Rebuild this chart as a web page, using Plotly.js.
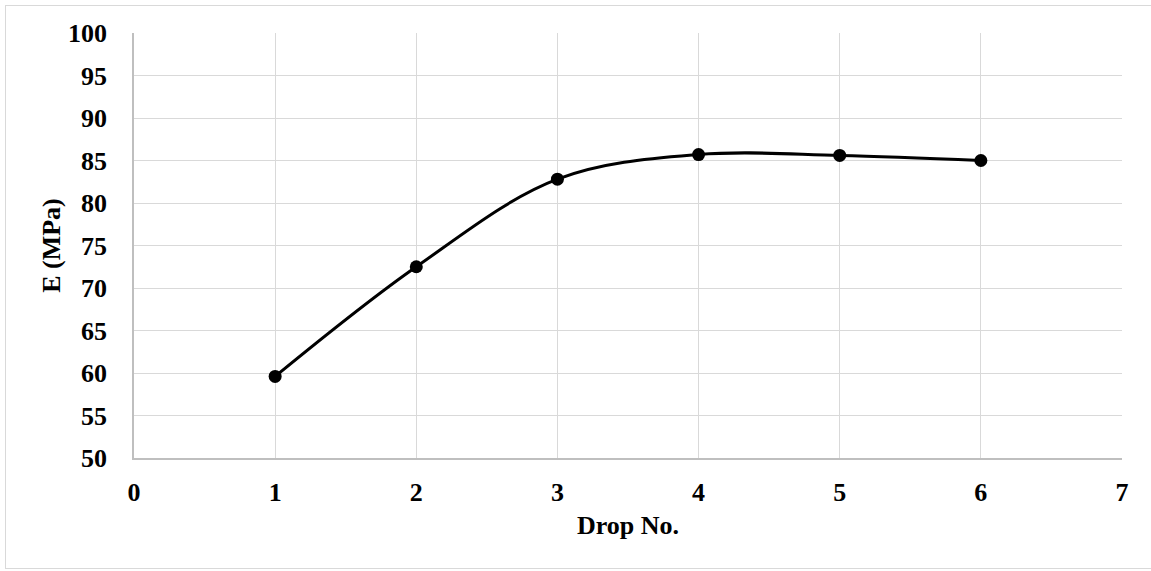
<!DOCTYPE html>
<html>
<head>
<meta charset="utf-8">
<script src="https://cdn.plot.ly/plotly-3.0.1.min.js"></script>
<style>
html,body{margin:0;padding:0;background:#fff;overflow:hidden;}
#frame{position:absolute;left:5px;top:5px;width:1160px;height:564px;border-top:1px solid #d9d9d9;border-left:1px solid #d9d9d9;border-bottom:1px solid #d9d9d9;box-sizing:border-box;}
#chart{position:absolute;left:0;top:0;width:1151px;height:571px;}
</style>
</head>
<body>
<div id="frame"></div>
<div id="chart"></div>
<script>
const dropNo = [1, 2, 3, 4, 5, 6];
const modulusE = [59.6, 72.5, 82.8, 85.7, 85.6, 85.0];
const xTicks = [0, 1, 2, 3, 4, 5, 6, 7];
const yTicks = [50, 55, 60, 65, 70, 75, 80, 85, 90, 95, 100];
const xTitle = 'Drop No.';
const yTitle = 'E (MPa)';

const fontFamily = 'Liberation Serif, Times New Roman, serif';

const trace = {
  x: dropNo,
  y: modulusE,
  type: 'scatter',
  mode: 'lines+markers',
  line: {color: '#000000', width: 3, shape: 'spline', smoothing: 1},
  marker: {color: '#000000', size: 13},
  showlegend: false,
  hoverinfo: 'x+y'
};

const layout = {
  width: 1151,
  height: 571,
  margin: {l: 134, r: 29, t: 33, b: 113},
  paper_bgcolor: 'rgba(0,0,0,0)',
  plot_bgcolor: '#ffffff',
  font: {family: fontFamily, color: '#000000'},
  xaxis: {
    range: [0, 7],
    tickvals: xTicks,
    ticktext: xTicks.map(String),
    showgrid: true,
    gridcolor: '#d9d9d9',
    gridwidth: 1,
    zeroline: false,
    showline: true,
    linecolor: '#bfbfbf',
    linewidth: 1.5,
    ticks: 'outside',
    ticklen: 10,
    tickcolor: 'rgba(0,0,0,0)',
    tickfont: {family: fontFamily, size: 26, color: '#000000', weight: 'bold'},
    title: {text: '<b>' + xTitle + '</b>', font: {family: fontFamily, size: 26, color: '#000000'}, standoff: 10},
    fixedrange: true
  },
  yaxis: {
    range: [50, 100],
    tickvals: yTicks,
    ticktext: yTicks.map(String),
    showgrid: true,
    gridcolor: '#d9d9d9',
    gridwidth: 1,
    zeroline: false,
    showline: true,
    linecolor: '#bfbfbf',
    linewidth: 1.5,
    ticks: 'outside',
    ticklen: 20,
    tickcolor: 'rgba(0,0,0,0)',
    tickfont: {family: fontFamily, size: 26, color: '#000000', weight: 'bold'},
    title: {text: '<b>' + yTitle + '</b>', font: {family: fontFamily, size: 26, color: '#000000'}, standoff: 0},
    fixedrange: true
  },
  showlegend: false
};

Plotly.newPlot('chart', [trace], layout, {displayModeBar: false});
</script>
</body>
</html>
